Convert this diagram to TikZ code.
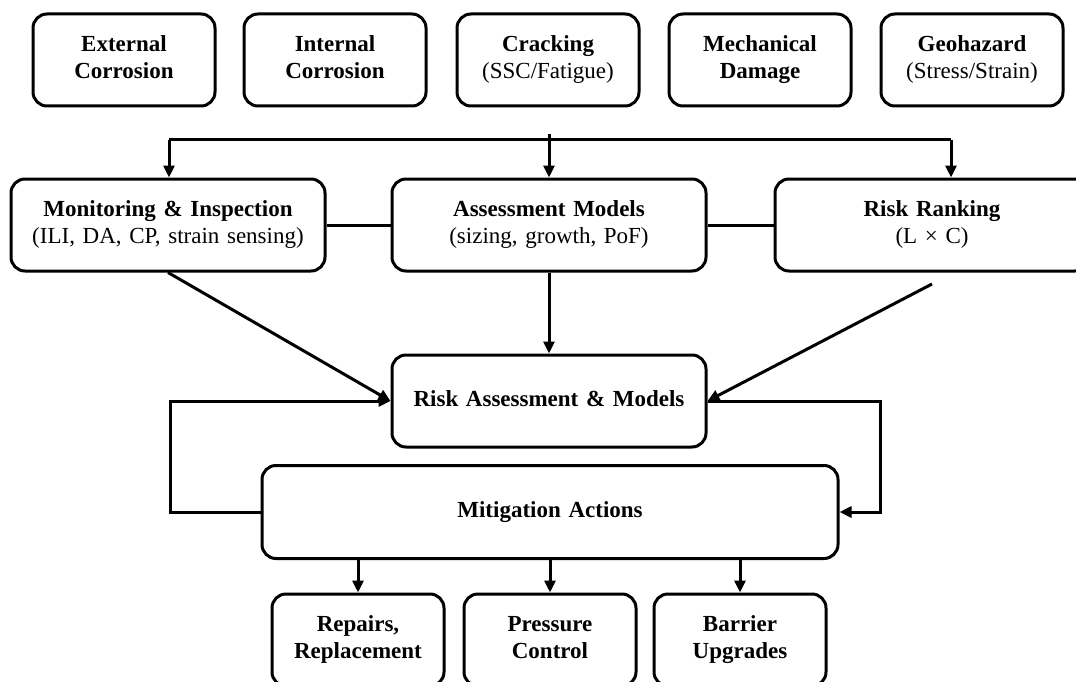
\documentclass[tikz,border=0pt]{standalone}
\usepackage{fontspec}
\setmainfont{Liberation Serif}
\usepackage{tikz}
\usetikzlibrary{arrows.meta, positioning}
\tikzstyle{line} = [draw, -{Triangle[length=12pt,width=11pt]}, line width=3pt]
\tikzstyle{wire} = [draw, line width=3pt]
\tikzstyle{threat} = [rectangle, draw, line width=3pt, rounded corners=14pt,
  minimum width=182pt, minimum height=92pt, text width=176pt, align=center,
  inner sep=0pt, font=\fontsize{23}{27}\selectfont,
  execute at begin node=\strut, execute at end node=\strut]
\tikzstyle{wide} = [threat, minimum width=314pt, text width=306pt]
\tikzstyle{action} = [threat, minimum width=172pt, text width=166pt]

\begin{document}
\begin{tikzpicture}[x=1pt, y=-1pt]
    \useasboundingbox (0,0) rectangle (1076,682);

    % threats
    \node [threat] (extcorr) at (124,60) {\textbf{External}\\\textbf{Corrosion}};
    \node [threat] (intcorr) at (335,60) {\textbf{Internal}\\\textbf{Corrosion}};
    \node [threat] (crack) at (548,60) {\textbf{Cracking}\\(SSC/Fatigue)};
    \node [threat] (mechdmg) at (760,60) {\textbf{Mechanical}\\\textbf{Damage}};
    \node [threat] (geohaz) at (972,60) {\textbf{Geohazard}\\(Stress/Strain)};

    % integrity management
    \node [wide] (monitor) at (168,225) {\textbf{Monitoring \& Inspection}\\(ILI, DA, CP, strain sensing)};
    \node [wide] (assess) at (549,225) {\textbf{Assessment Models}\\(sizing, growth, PoF)};
    \node [wide] (ranking) at (932,225) {\textbf{Risk Ranking}\\(L × C)};
    \node [wide] (riskmod) at (549,401) {\textbf{Risk Assessment \& Models}};
    \node [wide, minimum width=576pt, minimum height=93pt] (mitig) at (550,512) {\textbf{Mitigation Actions}};

    % actions
    \node [action] (repair) at (358,640) {\textbf{Repairs,}\\\textbf{Replacement}};
    \node [action] (pressure) at (550,640) {\textbf{Pressure}\\\textbf{Control}};
    \node [action] (barrier) at (740,640) {\textbf{Barrier}\\\textbf{Upgrades}};

    \coordinate (busL) at (169,140);
    \coordinate (busR) at (951,140);
    \coordinate (busC) at (549,134);
    \coordinate (rankout) at (932,284);

    \path [wire] (busL) -- (busR);
    \path [line] (busL) -- (busL |- monitor.north);
    \path [line] (busC) -- (assess.north);
    \path [line] (busR) -- (busR |- ranking.north);
    \path [wire] (monitor) -- (assess);
    \path [wire] (assess) -- (ranking);
    \path [line] (monitor.south) -- (riskmod.west);
    \path [line] (assess) -- (riskmod);
    \path [line] (rankout) -- (riskmod.east);
    \path [line] (mitig.west) -- ++(-90,0) |- (riskmod.west);
    \path [line] (riskmod.east) -- ++(173,0) |- (mitig.east);
    \path [line] (repair.north |- mitig.south) -- (repair.north);
    \path [line] (pressure.north |- mitig.south) -- (pressure.north);
    \path [line] (barrier.north |- mitig.south) -- (barrier.north);

  \end{tikzpicture}
\end{document}
